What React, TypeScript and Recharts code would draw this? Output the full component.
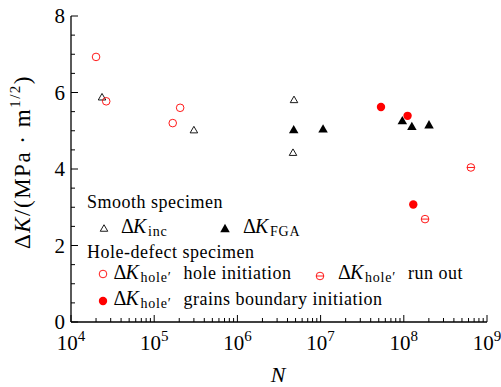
import * as React from "react";
import { ScatterChart, Scatter, XAxis, YAxis } from "recharts";

// ΔK vs N, log x axis
const incN = [2.36e4, 3.0e5, 4.79e6, 4.66e6];
const incK = [5.89, 5.03, 5.82, 4.44];

const fgaN = [4.75e6, 1.07e7, 9.6e7, 1.25e8, 2.01e8];
const fgaK = [5.04, 5.06, 5.28, 5.13, 5.17];

const holeN = [2.0e4, 2.65e4, 1.67e5, 2.05e5];
const holeK = [6.93, 5.77, 5.2, 5.6];

const runOutN = [6.4e8, 1.8e8];
const runOutK = [4.04, 2.69];

const grainN = [5.32e7, 1.11e8, 1.3e8];
const grainK = [5.62, 5.39, 3.07];

const decades = [4, 5, 6, 7, 8, 9];
const minorSteps = [2, 3, 4, 5, 6, 7, 8, 9];
const yTicks = [0, 0.5, 1, 1.5, 2, 2.5, 3, 3.5, 4, 4.5, 5, 5.5, 6, 6.5, 7, 7.5, 8];
const yLabels = [0, 2, 4, 6, 8];

const xTicks: number[] = [];
decades.forEach((d, i) => {
  xTicks.push(Math.pow(10, d));
  if (i < decades.length - 1) minorSteps.forEach((m) => xTicks.push(m * Math.pow(10, d)));
});

const zip = (ns: number[], ks: number[]) => ns.map((n, i) => ({ n, k: ks[i] }));

const RED = "#ff0000";
const FONT = "'Liberation Serif', 'DejaVu Serif', serif";
const AXIS = { stroke: "#000", strokeWidth: 1.3 };

function XTick(props: any) {
  const { x, y, payload } = props;
  const e = Math.log10(payload.value);
  const major = Math.abs(e - Math.round(e)) < 1e-6;
  return (
    <g>
      <line x1={x} x2={x} y1={y} y2={y - (major ? 7 : 4)} stroke="#000" strokeWidth={1} />
      {major && (
        <text x={x} y={y + 28} textAnchor="middle" style={{ fontFamily: FONT }} fontSize={21} fill="#000">
          10
          <tspan dy={-9} fontSize={15}>
            {Math.round(e)}
          </tspan>
        </text>
      )}
    </g>
  );
}

function YTick(props: any) {
  const { x, y, payload } = props;
  const v = payload.value;
  const major = yLabels.includes(v);
  return (
    <g>
      <line x1={x} x2={x + (major ? 7 : 4)} y1={y} y2={y} stroke="#000" strokeWidth={1} />
      {major && (
        <text x={x - 6} y={y + 7} textAnchor="end" style={{ fontFamily: FONT }} fontSize={21} fill="#000">
          {v}
        </text>
      )}
    </g>
  );
}

const triPath = (cx: number, cy: number, w: number) => {
  const h = w * 0.87;
  return `M${cx - w / 2},${cy + h / 2} L${cx + w / 2},${cy + h / 2} L${cx},${cy - h / 2} Z`;
};

const OpenTri = (p: any) => <path d={triPath(p.cx, p.cy, 7.5)} fill="none" stroke="#000" strokeWidth={0.9} />;
const FillTri = (p: any) => <path d={triPath(p.cx, p.cy, 9.5)} fill="#000" />;
const OpenCirc = (p: any) => <circle cx={p.cx} cy={p.cy} r={3.8} fill="none" stroke={RED} strokeWidth={0.9} />;
const FillCirc = (p: any) => <circle cx={p.cx} cy={p.cy} r={4.2} fill={RED} />;
const RunOut = (p: any) => (
  <g>
    <circle cx={p.cx} cy={p.cy} r={3.8} fill="none" stroke={RED} strokeWidth={0.9} />
    <line x1={p.cx - 3.8} x2={p.cx + 3.8} y1={p.cy} y2={p.cy} stroke={RED} strokeWidth={0.9} />
  </g>
);

function Legend() {
  const t = { style: { fontFamily: FONT }, fontSize: 18, fill: "#000", letterSpacing: 0.5 } as const;
  const dk = (x: number, y: number, sub: string, rest?: string) => (
    <text y={y} {...t}>
      <tspan x={x} fontSize={20}>Δ</tspan>
      <tspan x={x + 12} fontSize={20} fontStyle="italic">K</tspan>
      <tspan x={x + 27} dy={3} fontSize={14} letterSpacing={0.8}>
        {sub}
      </tspan>
      {rest && (
        <tspan x={x + 70} dy={-3}>
          {rest}
        </tspan>
      )}
    </text>
  );
  return (
    <svg width={501} height={387} style={{ position: "absolute", left: 0, top: 0, pointerEvents: "none" }}>
      <text x={87} y={208} {...t}>Smooth specimen</text>
      <OpenTri cx={104} cy={228} />
      {dk(121, 233, "inc")}
      <FillTri cx={225} cy={228} />
      {dk(243, 233, "FGA")}
      <text x={87} y={258} {...t}>Hole-defect specimen</text>
      <OpenCirc cx={103} cy={274} />
      {dk(113.5, 279, "hole′", "hole initiation")}
      <RunOut cx={320} cy={276} />
      {dk(338, 279, "hole′", "run out")}
      <FillCirc cx={103} cy={301} />
      {dk(113.5, 305, "hole′", "grains boundary initiation")}
    </svg>
  );
}

export default function App() {
  return (
    <div style={{ position: "absolute", left: 0, top: 0, width: 501, height: 387, background: "#fff", fontFamily: FONT }}>
      <ScatterChart width={501} height={387} margin={{ top: 16, right: 14, bottom: 0, left: 0 }}>
        <XAxis
          xAxisId="b"
          type="number"
          dataKey="n"
          scale="log"
          domain={[1e4, 1e9]}
          ticks={xTicks}
          interval={0}
          allowDataOverflow
          height={65}
          tickSize={0}
          tickMargin={0}
          tickLine={false}
          axisLine={AXIS}
          tick={<XTick />}
        />
        <XAxis xAxisId="t" orientation="top" type="number" scale="log" domain={[1e4, 1e9]} height={0} tick={false} tickLine={false} axisLine={AXIS} />
        <YAxis
          yAxisId="l"
          type="number"
          dataKey="k"
          domain={[0, 8]}
          ticks={yTicks}
          interval={0}
          width={71}
          tickSize={0}
          tickMargin={0}
          tickLine={false}
          axisLine={AXIS}
          tick={<YTick />}
        />
        <YAxis yAxisId="r" orientation="right" type="number" domain={[0, 8]} width={0} tick={false} tickLine={false} axisLine={AXIS} />
        <Scatter xAxisId="b" yAxisId="l" data={zip(incN, incK)} shape={OpenTri} isAnimationActive={false} />
        <Scatter xAxisId="b" yAxisId="l" data={zip(fgaN, fgaK)} shape={FillTri} isAnimationActive={false} />
        <Scatter xAxisId="b" yAxisId="l" data={zip(holeN, holeK)} shape={OpenCirc} isAnimationActive={false} />
        <Scatter xAxisId="b" yAxisId="l" data={zip(runOutN, runOutK)} shape={RunOut} isAnimationActive={false} />
        <Scatter xAxisId="b" yAxisId="l" data={zip(grainN, grainK)} shape={FillCirc} isAnimationActive={false} />
      </ScatterChart>
      <svg width={501} height={387} style={{ position: "absolute", left: 0, top: 0, pointerEvents: "none" }}>
        <text transform="translate(30,162) rotate(-90)" textAnchor="middle" style={{ fontFamily: FONT }} fontSize={23} letterSpacing={1.5} fill="#000">
          Δ<tspan fontStyle="italic">K</tspan>/(MPa · m<tspan dy={-10} fontSize={15}>1/2</tspan>
          <tspan dy={10}>)</tspan>
        </text>
        <text x={278} y={382} textAnchor="middle" style={{ fontFamily: FONT }} fontSize={22} fontStyle="italic" fill="#000">
          N
        </text>
      </svg>
      <Legend />
    </div>
  );
}
